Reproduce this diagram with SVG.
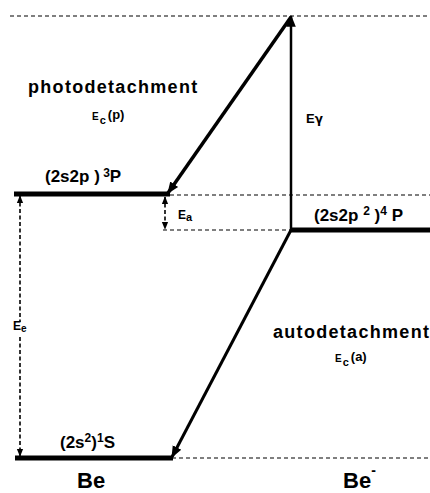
<svg xmlns="http://www.w3.org/2000/svg" width="430" height="493" viewBox="0 0 430 493">
<style>
.t{font-family:"Liberation Sans",Arial,sans-serif;font-weight:bold;fill:#000}
.lvl{stroke:#000;stroke-width:5;fill:none}
.dash{stroke:#000;stroke-width:1.2;stroke-dasharray:4 3;fill:none}
.tr{stroke:#000;fill:none}
</style>
<defs>
<marker id="ahs" viewBox="0 0 10 10" refX="9" refY="5" markerWidth="8" markerHeight="8" orient="auto-start-reverse" markerUnits="userSpaceOnUse">
<path d="M0,1 L10,5 L0,9 z" fill="#000"/>
</marker>
<marker id="ahb" viewBox="0 0 10 10" refX="9" refY="5" markerWidth="12" markerHeight="12" orient="auto" markerUnits="userSpaceOnUse">
<path d="M0,1 L10,5 L0,9 z" fill="#000"/>
</marker>
</defs>
<g id="guides">
<line class="dash" x1="10" y1="16" x2="430" y2="16"/>
<line class="dash" x1="170" y1="195" x2="430" y2="195"/>
<line class="dash" x1="163" y1="230" x2="291" y2="230"/>
<line class="dash" x1="172" y1="458" x2="430" y2="458"/>
</g>
<g id="be-3P">
<line class="lvl" x1="14" y1="194" x2="170" y2="194"/>
<text class="t" x="45" y="182" font-size="17">(2s2p )<tspan dy="-5" font-size="12"> 3</tspan><tspan dy="5">P</tspan></text>
</g>
<g id="be-1S">
<line class="lvl" x1="15" y1="458" x2="173" y2="458"/>
<text class="t" x="60" y="448" font-size="17">(2s<tspan dy="-6" font-size="12">2</tspan><tspan dy="6">)</tspan><tspan dy="-6" font-size="12">1</tspan><tspan dy="6">S</tspan></text>
</g>
<g id="bem-4P">
<line class="lvl" x1="290" y1="230" x2="430" y2="230"/>
<text class="t" x="314" y="221" font-size="17">(2s2p <tspan dy="-6" font-size="12">2</tspan><tspan dy="6"> )</tspan><tspan dy="-6" font-size="12">4</tspan><tspan dy="6"> P</tspan></text>
</g>
<g id="labels">
<text class="t" x="28" y="93" font-size="18" letter-spacing="1.3">photodetachment</text>
<text class="t" x="92" y="120" font-size="10">E<tspan dx="1" dy="4" font-size="11">c</tspan><tspan dx="2" dy="-5" font-size="13">(p)</tspan></text>
<text class="t" x="273" y="338" font-size="18" letter-spacing="1.3">autodetachment</text>
<text class="t" x="335" y="362" font-size="10">E<tspan dx="1" dy="4" font-size="11">c</tspan><tspan dx="2" dy="-5" font-size="13">(a)</tspan></text>
<text class="t" x="306" y="123" font-size="13">E<tspan font-family="'DejaVu Sans',sans-serif" font-size="12">γ</tspan></text>
<text class="t" x="178" y="219" font-size="12">E<tspan font-size="11" dy="2">a</tspan></text>
<text class="t" x="13" y="330" font-size="12">E<tspan font-size="10" dy="2">e</tspan></text>
<text class="t" x="77" y="488" font-size="22">Be</text>
<text class="t" x="343" y="488" font-size="22">Be<tspan dy="-13" font-size="14">-</tspan></text>
</g>
<g id="connectors">
<line class="tr" stroke-width="3.5" x1="291" y1="17" x2="168" y2="193" marker-end="url(#ahb)"/>
<line class="tr" stroke-width="2.5" x1="291" y1="230" x2="291" y2="16" marker-end="url(#ahb)"/>
<line class="tr" stroke-width="3" x1="291" y1="230" x2="172" y2="457" marker-end="url(#ahb)"/>
<line class="tr" stroke-width="1.6" stroke-dasharray="4 2.5" x1="165" y1="197" x2="165" y2="229" marker-start="url(#ahs)" marker-end="url(#ahs)"/>
<line class="tr" stroke-width="1.6" stroke-dasharray="4 2.5" x1="20" y1="196" x2="20" y2="322" marker-start="url(#ahs)"/>
<line class="tr" stroke-width="1.6" stroke-dasharray="4 2.5" x1="20" y1="337" x2="20" y2="456" marker-end="url(#ahs)"/>
</g>
</svg>
